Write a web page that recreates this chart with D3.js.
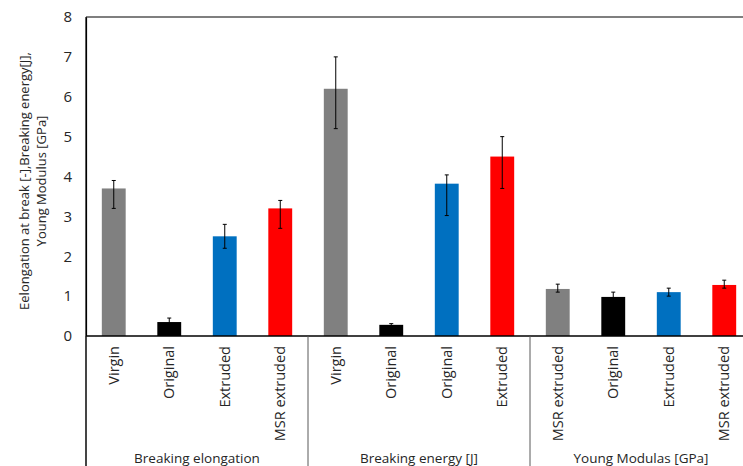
<!DOCTYPE html>
<html>
<head>
<meta charset="utf-8">
<script src="https://cdn.jsdelivr.net/npm/d3@7/dist/d3.min.js"></script>
<style>
  body { margin: 0; background: #fff; }
  svg { display: block; }
  text { font-family: "Open Sans", "Noto Sans", sans-serif; fill: #262626; }
</style>
</head>
<body>
<svg id="chart" width="743" height="466"></svg>
<script>
// ---- data ----
const categories = ["Virgin", "Original", "Extruded", "MSR extruded",
                    "Virgin", "Original", "Original", "Extruded",
                    "MSR extruded", "Original", "Extruded", "MSR extruded"];
const groups = ["Breaking elongation", "Breaking energy [J]", "Young Modulas [GPa]"];
const values   = [3.7, 0.35, 2.5, 3.2,  6.2, 0.28, 3.82, 4.5,  1.18, 0.98, 1.1, 1.28];
const errPlus  = [0.2, 0.1, 0.3, 0.2,   0.8, 0.03, 0.22, 0.5,  0.12, 0.12, 0.1, 0.12];
const errMinus = [0.5, 0.1, 0.3, 0.5,   1.0, 0.03, 0.8, 0.8,   0.08, 0.1, 0.1, 0.08];
const colors   = ["#808080", "#000000", "#0070C0", "#FF0000",
                  "#808080", "#000000", "#0070C0", "#FF0000",
                  "#808080", "#000000", "#0070C0", "#FF0000"];
const yTicks = [0, 1, 2, 3, 4, 5, 6, 7, 8];

// ---- layout ----
const svg = d3.select("#chart");
const mLeft = 86, mTop = 17, mBottom = 336;
const step = 55.5;
const mRight = mLeft + step * categories.length;

const x = d3.scaleBand()
  .domain(d3.range(categories.length))
  .range([mLeft, mRight])
  .paddingInner(0.57)
  .paddingOuter(0.285);

const y = d3.scaleLinear().domain([0, 8]).range([mBottom, mTop]);

// top border
svg.append("line")
  .attr("x1", mLeft).attr("x2", 743).attr("y1", y(8)).attr("y2", y(8))
  .attr("stroke", "#000").attr("stroke-width", 1.2);

// y axis
const yAxis = d3.axisLeft(y).tickValues(yTicks).tickSize(0).tickPadding(14).tickFormat(d3.format("d"));
const gy = svg.append("g").attr("transform", `translate(${mLeft},0)`).call(yAxis);
gy.select(".domain").attr("stroke", "#000").attr("stroke-width", 1.2);
gy.selectAll("text").style("font-size", "15px").attr("fill", "#262626");

// bars
svg.append("g").selectAll("rect").data(values).join("rect")
  .attr("x", (d, i) => x(i))
  .attr("width", x.bandwidth())
  .attr("y", d => y(d))
  .attr("height", d => y(0) - y(d))
  .attr("fill", (d, i) => colors[i]);

// error bars
const eb = svg.append("g").attr("stroke", "#000").attr("stroke-width", 1);
values.forEach((v, i) => {
  const cx = x(i) + x.bandwidth() / 2;
  const yt = y(v + errPlus[i]), yb = y(v - errMinus[i]);
  eb.append("line").attr("x1", cx).attr("x2", cx).attr("y1", yt).attr("y2", yb);
  eb.append("line").attr("x1", cx - 2).attr("x2", cx + 2).attr("y1", yt).attr("y2", yt);
  eb.append("line").attr("x1", cx - 2).attr("x2", cx + 2).attr("y1", yb).attr("y2", yb);
});

// x axis line
svg.append("line")
  .attr("x1", mLeft).attr("x2", 743).attr("y1", y(0)).attr("y2", y(0))
  .attr("stroke", "#000").attr("stroke-width", 1.5);

// group separators (under the axis)
const groupSize = 4;
d3.range(groups.length + 1).forEach(g => {
  const gx = mLeft + g * groupSize * step;
  svg.append("line")
    .attr("x1", gx).attr("x2", gx).attr("y1", y(0)).attr("y2", 466)
    .attr("stroke", "#595959").attr("stroke-width", 1);
});
// left axis continuation
svg.append("line").attr("x1", mLeft).attr("x2", mLeft).attr("y1", mTop).attr("y2", 466)
  .attr("stroke", "#000").attr("stroke-width", 1.2);

// category labels (rotated)
svg.append("g").selectAll("text").data(categories).join("text")
  .attr("transform", (d, i) => `translate(${x(i) + x.bandwidth() / 2 + 5},${y(0) + 10}) rotate(-90)`)
  .attr("text-anchor", "end")
  .style("font-size", "14.5px")
  .text(d => d);

// group labels
svg.append("g").selectAll("text").data(groups).join("text")
  .attr("x", (d, g) => mLeft + (g + 0.5) * groupSize * step)
  .attr("y", 463)
  .attr("text-anchor", "middle")
  .style("font-size", "13.5px")
  .text(d => d);

// y title
const ytitle = svg.append("text")
  .attr("transform", "translate(29,181) rotate(-90)")
  .attr("text-anchor", "middle")
  .style("font-size", "13px");
ytitle.append("tspan").attr("x", 0).attr("dy", 0).text("Eelongation at break  [-],Breaking energy[J],");
ytitle.append("tspan").attr("x", 0).attr("dy", 17).text("Young Modulus [GPa]");
</script>
</body>
</html>
